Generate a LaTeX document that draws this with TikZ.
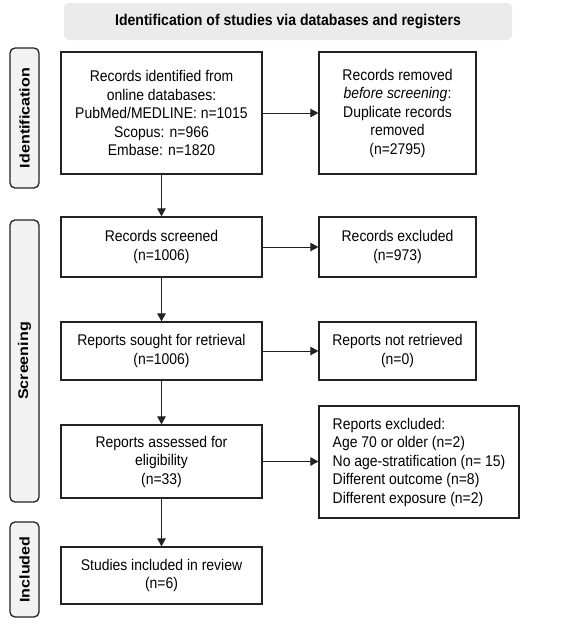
\documentclass[tikz,border=0pt]{standalone}
\usepackage{fontspec}
\setmainfont{Liberation Sans}[FakeStretch=0.9]
\newfontfamily\sidefont{Liberation Sans}[FakeStretch=1.15]
\usetikzlibrary{arrows.meta}
\definecolor{hdrgray}{HTML}{EBEBEB}
\definecolor{sidegray}{HTML}{F2F2F2}
\definecolor{linegray}{HTML}{222222}
\begin{document}
\begin{tikzpicture}[x=1pt,y=-1pt,
  box/.style={draw=linegray,line width=1.3pt,inner sep=0pt,align=center,
    font=\fontsize{15.5}{18.5}\selectfont,fill=white},
  sidebox/.style={draw=linegray,line width=1.3pt,rounded corners=5pt,fill=sidegray,
    minimum width=29pt,inner sep=0pt},
  sidetext/.style={rotate=90,font=\sidefont\fontsize{14}{16}\selectfont\bfseries},
  arr/.style={draw=linegray,line width=1pt,-{Triangle[length=8pt,width=8.5pt]}}]
\useasboundingbox (0,0) rectangle (576,624);
\fill[white] (0,0) rectangle (576,624);
% header
\node[fill=hdrgray,rounded corners=5pt,minimum width=448pt,minimum height=37pt,inner sep=0pt,
  font=\fontsize{15.6}{18}\selectfont\bfseries] (hdr) at (288,21.5)
  {Identification of studies via databases and registers};
% side labels
\node[sidebox,minimum height=140pt] (sid) at (24.5,118) {};
\node[sidetext] (sidt) at (sid.center) {Identification};
\node[sidebox,minimum height=282pt] (sscr) at (24.5,361) {};
\node[sidetext] (sscrt) at (sscr.center) {Screening};
\node[sidebox,minimum height=95pt] (sinc) at (24.5,569.5) {};
\node[sidetext] (sinct) at (sinc.center) {Included};
% boxes
\node[box,minimum width=201pt,minimum height=122pt] (b1) at (161.5,113)
  {Records identified from\\online databases:\\PubMed/MEDLINE: n=1015\\Scopus: n=966\\Embase: n=1820};
\node[box,minimum width=157pt,minimum height=122pt] (b2) at (397.5,113)
  {Records removed\\\textit{before screening}:\\Duplicate records\\removed\\(n=2795)};
\node[box,minimum width=201pt,minimum height=60pt] (b3) at (161.5,247)
  {Records screened\\(n=1006)};
\node[box,minimum width=157pt,minimum height=60pt] (b4) at (397.5,247)
  {Records excluded\\(n=973)};
\node[box,minimum width=201pt,minimum height=58pt] (b5) at (161.5,351)
  {Reports sought for retrieval\\(n=1006)};
\node[box,minimum width=157pt,minimum height=58pt] (b6) at (397.5,351)
  {Reports not retrieved\\(n=0)};
\node[box,minimum width=201pt,minimum height=73pt] (b7) at (161.5,461.5)
  {Reports assessed for\\eligibility\\(n=33)};
\node[box,align=left,minimum width=200pt,minimum height=112pt] (b8) at (419,462)
  {Reports excluded:\\Age 70 or older (n=2)\\No age-stratification (n=~15)\\Different outcome (n=8)\\Different exposure (n=2)};
\node[box,minimum width=201pt,minimum height=57pt] (b9) at (161.5,575.5)
  {Studies included in review\\(n=6)};
% arrows
\draw[arr] (b1) -- (b2);
\draw[arr] (b3) -- (b4);
\draw[arr] (b5) -- (b6);
\draw[arr] (b7) -- (b8.west |- b7);
\draw[arr] (b1) -- (b3);
\draw[arr] (b3) -- (b5);
\draw[arr] (b5) -- (b7);
\draw[arr] (b7) -- (b9);
\end{tikzpicture}
\end{document}
